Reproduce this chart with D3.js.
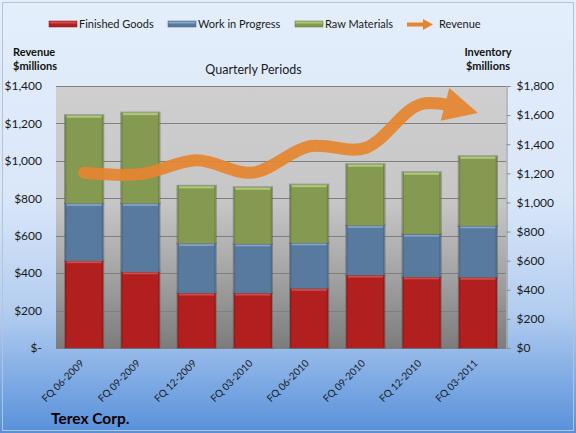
<!DOCTYPE html>
<html><head><meta charset="utf-8">
<script src="https://cdn.jsdelivr.net/npm/d3@7"></script>
<style>html,body{margin:0;padding:0;background:#fff}svg{display:block}text{font-family:Lato,"Liberation Sans",sans-serif}</style>
</head><body>
<script>
const categories = ["FQ 06-2009","FQ 09-2009","FQ 12-2009","FQ 03-2010","FQ 06-2010","FQ 09-2010","FQ 12-2010","FQ 03-2011"];
const finishedGoods = [600, 524, 378, 378, 410, 501, 489, 486];
const workInProgress = [394, 470, 341, 338, 313, 342, 294, 354];
const rawMaterials = [605, 623, 395, 388, 399, 419, 424, 477];
const revenue = [936, 929, 1003, 937, 1077, 1069, 1304, 1256];
const leftTicks = [0, 200, 400, 600, 800, 1000, 1200, 1400];
const rightTicks = [0, 200, 400, 600, 800, 1000, 1200, 1400, 1600, 1800];
const seriesNames = ["Finished Goods", "Work in Progress", "Raw Materials"];

const W = 576, H = 433;
const m = {left: 56, right: 506, top: 86, bottom: 348};
const colors = {
  "Finished Goods": {main: "#b21f1f", hi: "#dc5858", edge: "#7d1515"},
  "Work in Progress": {main: "#587a9e", hi: "#94b2d6", edge: "#3f5a78"},
  "Raw Materials": {main: "#849a50", hi: "#b8d47f", edge: "#5e7236"}
};
const revColor = "#e6852f";

const svg = d3.select("body").append("svg").attr("width", W).attr("height", H);
const defs = svg.append("defs");
const bgGrad = defs.append("linearGradient").attr("id", "bg").attr("x1", 0).attr("y1", 0).attr("x2", 0).attr("y2", 1);
[[0, "#e4eefb"], [0.45, "#dae7f9"], [0.72, "#b3cdf0"], [1, "#5790da"]].forEach(s => bgGrad.append("stop").attr("offset", s[0]).attr("stop-color", s[1]));
const pGrad = defs.append("linearGradient").attr("id", "pbg").attr("x1", 0).attr("y1", 0).attr("x2", 0).attr("y2", 1);
[[0, "#cfcfcf"], [0.45, "#c6c6c6"], [0.7, "#a6a6a6"], [1, "#7c7c7c"]].forEach(s => pGrad.append("stop").attr("offset", s[0]).attr("stop-color", s[1]));

svg.append("rect").attr("x", 0).attr("y", 0).attr("width", W).attr("height", H).attr("fill", "url(#bg)");
svg.append("rect").attr("x", 2.5).attr("y", 2.5).attr("width", W - 5).attr("height", H - 5).attr("fill", "none").attr("stroke", "#b4c4d8").attr("stroke-width", 1);

const x = d3.scaleBand().domain(categories).range([m.left, m.right]).paddingInner(0.32).paddingOuter(0.16);
const yL = d3.scaleLinear().domain([0, 1400]).range([m.bottom, m.top]);
const yR = d3.scaleLinear().domain([0, 1800]).range([m.bottom, m.top]);

// plot area
svg.append("rect").attr("x", m.left).attr("y", m.top).attr("width", m.right - m.left).attr("height", m.bottom - m.top).attr("fill", "url(#pbg)");

// gridlines (left axis)
svg.append("g").selectAll("line").data(leftTicks).join("line")
  .attr("x1", m.left).attr("x2", m.right)
  .attr("y1", d => Math.round(yL(d)) + 0.5).attr("y2", d => Math.round(yL(d)) + 0.5)
  .attr("stroke", "#7f7f7f").attr("stroke-width", 1);

// left axis
const axL = svg.append("g").attr("transform", `translate(${m.left},0)`)
  .call(d3.axisLeft(yL).tickValues(leftTicks).tickSize(0).tickPadding(14)
    .tickFormat(d => d === 0 ? "$-" : "$" + d3.format(",")(d)));
axL.select(".domain").remove();
axL.selectAll("text").attr("font-size", 12).attr("fill", "#1a1a1a").attr("font-family", "Lato, sans-serif");

// right axis
const axR = svg.append("g").attr("transform", `translate(${m.right + 0.5},0)`)
  .call(d3.axisRight(yR).tickValues(rightTicks).tickSize(4).tickPadding(6)
    .tickFormat(d => "$" + d3.format(",")(d)));
axR.select(".domain").attr("stroke", "#8c8c8c");
axR.selectAll(".tick line").attr("stroke", "#8c8c8c");
axR.selectAll("text").attr("font-size", 12).attr("fill", "#1a1a1a").attr("font-family", "Lato, sans-serif");

// stacked bars
const rows = categories.map((c, i) => ({cat: c, "Finished Goods": finishedGoods[i], "Work in Progress": workInProgress[i], "Raw Materials": rawMaterials[i]}));
const stack = d3.stack().keys(seriesNames)(rows);
const bars = svg.append("g");
stack.forEach(layer => {
  const col = colors[layer.key];
  const g = bars.append("g");
  layer.forEach(seg => {
    const bx = x(seg.data.cat), bw = x.bandwidth();
    const y0 = yR(seg[1]), y1 = yR(seg[0]);
    g.append("rect").attr("x", bx - 0.5).attr("y", y0 - 0.5).attr("width", bw + 1).attr("height", y1 - y0 + 1)
      .attr("fill", "none").attr("stroke", "#5a5a5a").attr("stroke-opacity", 0.5);
    g.append("rect").attr("x", bx).attr("y", y0).attr("width", bw).attr("height", y1 - y0).attr("fill", col.main);
    g.append("rect").attr("x", bx + 1.5).attr("y", y0 + 0.5).attr("width", bw - 3).attr("height", 2).attr("fill", col.hi).attr("opacity", 0.8);
    g.append("rect").attr("x", bx).attr("y", y0).attr("width", 1.5).attr("height", y1 - y0).attr("fill", col.edge).attr("opacity", 0.45);
    g.append("rect").attr("x", bx + bw - 1.5).attr("y", y0).attr("width", 1.5).attr("height", y1 - y0).attr("fill", col.edge).attr("opacity", 0.45);
  });
});

// revenue line with arrow
const pts = revenue.map((v, i) => [x(categories[i]) + x.bandwidth() / 2, yL(v)]);
const line = d3.line().curve(d3.curveCatmullRom.alpha(0.5));
const revG = svg.append("g").attr("opacity", 0.92);
const path = revG.append("path").attr("d", line(pts)).attr("fill", "none")
  .attr("stroke", revColor).attr("stroke-width", 12).attr("stroke-linecap", "butt");
const L = path.node().getTotalLength();
const headLen = 34, headHalf = 17;
path.attr("stroke-dasharray", `${L - headLen + 4} ${L}`);
const tip = pts[pts.length - 1];
const back = path.node().getPointAtLength(L - headLen);
let dx = tip[0] - back.x, dy = tip[1] - back.y;
const dl = Math.hypot(dx, dy); dx /= dl; dy /= dl;
const bm = [tip[0] - dx * headLen, tip[1] - dy * headLen];
revG.append("path").attr("d", `M${tip[0]},${tip[1]}L${bm[0] - dy * headHalf},${bm[1] + dx * headHalf}L${bm[0] + dy * headHalf},${bm[1] - dx * headHalf}Z`)
  .attr("fill", revColor);
revG.append("circle").attr("cx", pts[0][0]).attr("cy", pts[0][1]).attr("r", 6).attr("fill", revColor);

// x labels
svg.append("g").selectAll("text").data(categories).join("text")
  .attr("transform", d => `translate(${x(d) + x.bandwidth() / 2 + 0.5},${m.bottom + 16}) rotate(-45)`)
  .attr("text-anchor", "end").attr("font-size", 10).attr("fill", "#1a1a1a")
  .text(d => d);

// titles
svg.append("text").attr("x", 253.5).attr("y", 74).attr("text-anchor", "middle").attr("font-size", 12.5).attr("fill", "#1a1a1a").text("Quarterly Periods");
const lt = svg.append("text").attr("font-size", 11).attr("font-weight", "bold").attr("fill", "#111");
lt.append("tspan").attr("x", 13).attr("y", 56).text("Revenue");
lt.append("tspan").attr("x", 13).attr("y", 70).text("$millions");
const rt = svg.append("text").attr("font-size", 11).attr("font-weight", "bold").attr("fill", "#111").attr("text-anchor", "middle");
rt.append("tspan").attr("x", 488).attr("y", 56).text("Inventory");
rt.append("tspan").attr("x", 488).attr("y", 70).text("$millions");
svg.append("text").attr("x", 51).attr("y", 424).attr("font-size", 15.5).attr("font-weight", "bold").attr("fill", "#000").text("Terex Corp.");

// legend
const leg = svg.append("g");
const legItems = [
  {name: "Finished Goods", sx: 49, tx: 79},
  {name: "Work in Progress", sx: 168, tx: 198},
  {name: "Raw Materials", sx: 295, tx: 325}
];
legItems.forEach(it => {
  const col = colors[it.name];
  leg.append("rect").attr("x", it.sx).attr("y", 21).attr("width", 28).attr("height", 6).attr("fill", col.main).attr("stroke", col.edge).attr("stroke-width", 0.5);
  leg.append("rect").attr("x", it.sx + 0.5).attr("y", 21.5).attr("width", 27).attr("height", 2).attr("fill", col.hi).attr("opacity", 0.8);
  leg.append("text").attr("x", it.tx).attr("y", 28).attr("font-size", 11).attr("fill", "#1a1a1a").text(it.name);
});
leg.append("line").attr("x1", 407).attr("x2", 424).attr("y1", 24.5).attr("y2", 24.5).attr("stroke", revColor).attr("stroke-width", 4);
leg.append("path").attr("d", "M433,24.5L423,19L423,30Z").attr("fill", revColor);
leg.append("text").attr("x", 439).attr("y", 28).attr("font-size", 11).attr("fill", "#1a1a1a").text("Revenue");
</script>
</body></html>
